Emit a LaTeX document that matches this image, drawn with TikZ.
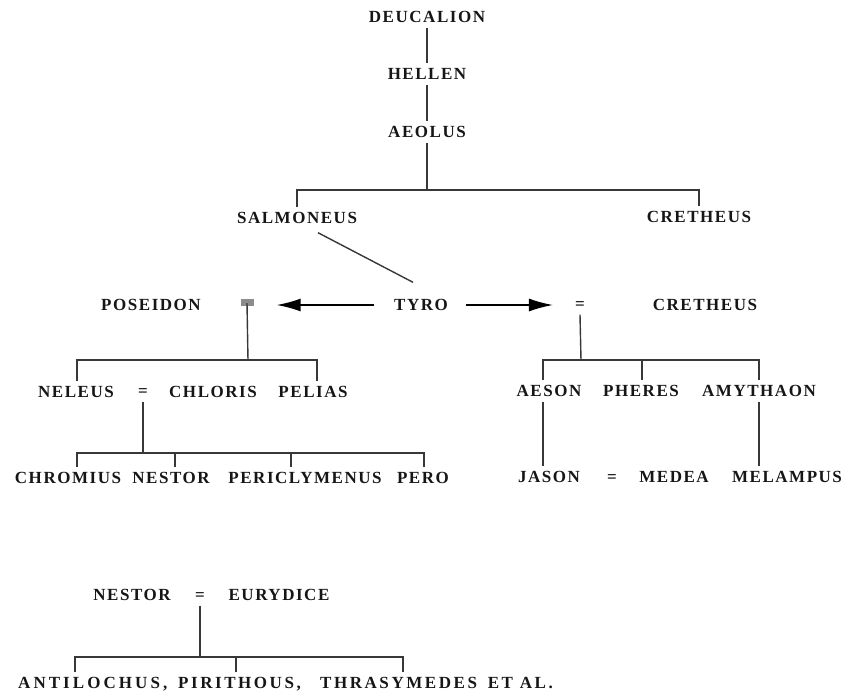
\documentclass[tikz,border=0pt]{standalone}
\usepackage{fontspec}
\newfontfamily\nmfont{Liberation Serif Bold}[LetterSpace=9]
\newfontfamily\nmwide{Liberation Serif Bold}[LetterSpace=18]
\newfontfamily\nmmid{Liberation Serif Bold}[LetterSpace=15]
\usetikzlibrary{arrows.meta}
\definecolor{ink}{HTML}{161616}
\definecolor{rulec}{HTML}{383838}
\begin{document}
\begin{tikzpicture}[x=1pt,y=-1pt,
  nm/.style={font=\fontsize{17}{20}\nmfont, text=ink, inner xsep=1pt, inner ysep=5pt, text height=11pt, text depth=0pt, anchor=center},
  ln/.style={draw=rulec, line width=1.4pt},
  arr/.style={draw=black, line width=1.5pt, -{Latex[length=24pt,width=13pt]}},
  eqbox/.style={fill=black!45, minimum width=13pt, minimum height=7pt, inner sep=0pt}]
\useasboundingbox (0,0) rectangle (852,696);

% top line
\node[nm] (deu) at (427,17) {DEUCALION};
\node[nm] (hel) at (427,74) {HELLEN};
\node[nm] (aeo) at (427,132) {AEOLUS};
\node[nm] (sal) at (297,218) {SALMONEUS};
\node[nm] (cre) at (699,217) {CRETHEUS};

% middle row
\node[nm] (pos) at (151,305) {POSEIDON};
\node[eqbox] (eqP) at (247,302.5) {};
\node[nm] (tyro) at (421,305) {TYRO};
\node[nm] (eqC) at (580,304) {=};
\node[nm] (creb) at (705,305) {CRETHEUS};

% Poseidon branch
\node[nm] (nel) at (76,392) {NELEUS};
\node[nm] (eqN) at (143,391) {=};
\node[nm] (chl) at (213,392) {CHLORIS};
\node[nm] (pel) at (313,392) {PELIAS};
\node[nm] (chr) at (68,478) {CHROMIUS};
\node[nm] (nes) at (171,478) {NESTOR};
\node[nm] (per) at (305,478) {PERICLYMENUS};
\node[nm] (pero) at (423,478) {PERO};

% Cretheus branch
\node[nm] (aes) at (549,391) {AESON};
\node[nm] (phe) at (641,391) {PHERES};
\node[nm] (amy) at (759,391) {AMYTHAON};
\node[nm] (jas) at (549,477) {JASON};
\node[nm] (eqJ) at (612,477) {=};
\node[nm] (med) at (674,477) {MEDEA};
\node[nm] (mel) at (787,477) {MELAMPUS};

% Nestor family
\node[nm] (nes2) at (132,595) {NESTOR};
\node[nm] (eqN2) at (200,595) {=};
\node[nm] (eur) at (279,595) {EURYDICE};
\node[nm, anchor=west, font=\fontsize{17}{20}\nmwide] (ant) at (17,683) {ANTILOCHUS,};
\node[nm, anchor=west, font=\fontsize{17}{20}\nmmid] (pir) at (177,683) {PIRITHOUS,};
\node[nm, anchor=west, font=\fontsize{17}{20}\nmmid] (thr) at (319,683) {THRASYMEDES\hspace{4pt} ET AL.};

% coordinates for bars
\coordinate (barA) at (427,190);
\coordinate (barP) at (248,360);
\coordinate (barN) at (143,453);
\coordinate (barC) at (581,360);
\coordinate (barE) at (200,657);

% connectors
\draw[ln] (deu.south) -- (hel.north);
\draw[ln] (hel.south) -- (aeo.north);
\draw[ln] (aeo.south) -- (barA);
\draw[ln] (sal.north) |- (barA) -| (cre.north);
\draw[ln] ([xshift=21pt,yshift=-4pt]sal.south) -- ([xshift=-8pt,yshift=12pt]tyro.north);

\draw[arr, shorten <=19pt, shorten >=23pt] (tyro.west) -- (tyro.west -| eqP.east);
\draw[arr, shorten <=17pt, shorten >=21pt] (tyro.east) -- (tyro.east -| eqC.west);

\draw[ln] (eqP.south) ++(0,3pt) -- (barP);
\draw[ln] ([xshift=1pt]nel.north) |- (barP) -| ([xshift=4pt]pel.north);

\draw[ln] (eqN.south) -- (barN);
\draw[ln] ([xshift=9pt]chr.north) |- (barN) -| ([xshift=1pt]pero.north);
\draw[ln] ([xshift=4pt]nes.north) -- ([xshift=4pt]nes.north |- barN);
\draw[ln] ([xshift=-14pt]per.north) -- ([xshift=-14pt]per.north |- barN);

\draw[ln] (eqC.south) -- (barC);
\draw[ln] ([xshift=-6pt]aes.north) |- (barC) -| (amy.north);
\draw[ln] ([xshift=1pt]phe.north) -- ([xshift=1pt]phe.north |- barC);
\draw[ln] ([xshift=-6pt]aes.south) -- ([xshift=-6pt]aes.south |- jas.north);
\draw[ln] (amy.south) -- (amy.south |- mel.north);

\draw[ln] (eqN2.south) -- (barE);
\draw[ln] ([xshift=58pt]ant.north west) |- (barE) -| ([xshift=84pt]thr.north west);
\draw[ln] ([xshift=59pt]pir.north west) -- ([xshift=59pt]pir.north west |- barE);
\end{tikzpicture}
\end{document}
